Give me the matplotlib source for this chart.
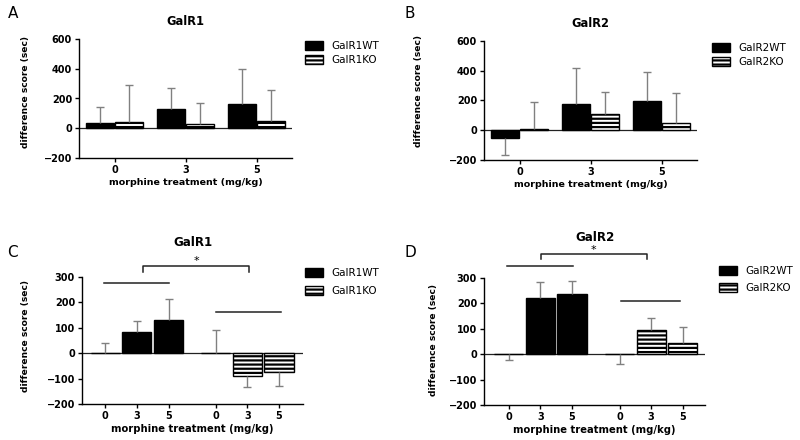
import numpy as np
import matplotlib.pyplot as plt

plt.rcParams['font.family'] = 'DejaVu Sans'
plt.rcParams['hatch.linewidth'] = 1.6

doses = ['0', '3', '5']

# top row (A, B): means and one-sided error (sign = direction of the bar)
galr1_wt = [36, 130, 164]
galr1_wt_err = [104, 143, 232]
galr1_ko = [40, 31, 52]
galr1_ko_err = [250, 140, 202]

galr2_wt = [-49, 178, 196]
galr2_wt_err = [-120, 242, 195]
galr2_ko = [7, 106, 52]
galr2_ko_err = [180, 152, 197]

# bottom row (C, D)
galr1_wt_c = [0, 83, 129]
galr1_wt_c_err = [39, 45, 84]
galr1_ko_c = [0, -91, -74]
galr1_ko_c_err = [92, -43, -55]

galr2_wt_d = [0, 222, 238]
galr2_wt_d_err = [-23, 62, 49]
galr2_ko_d = [0, 97, 45]
galr2_ko_d_err = [-38, 46, 61]

# significance marks: group lines (y, x0, x1) and bracket (x0, x1, top, foot, star)
sig_c_lines = [(276, -0.05, 2.03), (163, 3.52, 5.57)]
sig_c_bracket = (1.19, 4.55, 343, 320, 362)
sig_d_lines = [(349, -0.04, 2.04), (211, 3.55, 5.40)]
sig_d_bracket = (1.02, 4.36, 393, 373, 410)


def one_sided_err(ax, x, mean, err):
    # SD drawn only on the side the bar points to, cap at the tip
    mean = np.array(mean, dtype=float)
    tip = mean + np.array(err, dtype=float)
    ax.vlines(x, mean, tip, color='#808080', lw=1, zorder=3)
    ax.plot(x, tip, ls='none', marker='_', ms=6, mew=1, color='#808080', zorder=3)


def style(ax, ylim, yticks):
    ax.set_ylim(*ylim)
    ax.set_yticks(yticks)
    ax.spines['top'].set_visible(False)
    ax.spines['right'].set_visible(False)
    for s in ['left', 'bottom']:
        ax.spines[s].set_linewidth(1.0)
    ax.tick_params(direction='out', length=3, width=1, labelsize=7, pad=2)
    for lab in ax.get_xticklabels() + ax.get_yticklabels():
        lab.set_fontweight('bold')
    ax.axhline(0, color='#222222', lw=0.9, zorder=1)


def add_legend(ax, x, y, spacing):
    ax.legend(loc='upper left', bbox_to_anchor=(x / 800, 1 - y / 440),
              bbox_transform=fig.transFigure, frameon=False, fontsize=7.5,
              handlelength=1.75, handleheight=0.95, handletextpad=0.8,
              labelspacing=spacing, borderpad=0, borderaxespad=0)


fig = plt.figure(figsize=(8, 4.4), dpi=100)

wt_kw = dict(color='black', edgecolor='black', linewidth=1, zorder=2)
ko_kw = dict(color='white', edgecolor='black', linewidth=1, hatch='----', zorder=2)

# ---- top row ----
top = [
    ([79, 39, 292, 158], 'GalR1', galr1_wt, galr1_wt_err, galr1_ko, galr1_ko_err,
     'GalR1WT', 'GalR1KO', (305, 41), 0.35, (-0.23, 0.555), 'A', (13, 13)),
    ([484, 41, 697, 160], 'GalR2', galr2_wt, galr2_wt_err, galr2_ko, galr2_ko_err,
     'GalR2WT', 'GalR2KO', (712, 43), 0.35, (-0.286, 0.58), 'B', (410, 13)),
]
for box, title, wt, wt_e, ko, ko_e, lwt, lko, leg, sp, ylab, letter, lpos in top:
    l, t, r, b = box
    ax = fig.add_axes([l / 800, 1 - b / 440, (r - l) / 800, (b - t) / 440])
    x = np.arange(len(doses))
    ax.bar(x - 0.2, wt, 0.39, label=lwt, **wt_kw)
    ax.bar(x + 0.2, ko, 0.39, label=lko, **ko_kw)
    one_sided_err(ax, x - 0.2, wt, wt_e)
    one_sided_err(ax, x + 0.2, ko, ko_e)
    ax.set_xlim(-0.5, 2.5)
    ax.set_xticks(x)
    ax.set_xticklabels(doses)
    style(ax, (-200, 600), [-200, 0, 200, 400, 600])
    ax.text(0.5, 1.145, title, transform=ax.transAxes, ha='center', va='center',
            fontsize=8.3, fontweight='bold')
    ax.set_xlabel('morphine treatment (mg/kg)', fontsize=6.8, fontweight='bold')
    ax.xaxis.set_label_coords(0.5, -0.168)
    ax.set_ylabel('difference score (sec)', fontsize=6.6, fontweight='bold')
    ax.yaxis.set_label_coords(*ylab)
    add_legend(ax, leg[0], leg[1], sp)
    fig.text(lpos[0] / 800, 1 - lpos[1] / 440, letter, fontsize=11, ha='center', va='center')

# ---- bottom row ----
bottom = [
    ([82, 277, 303, 404], (-0.74, 6.26), 'GalR1', galr1_wt_c, galr1_wt_c_err,
     galr1_ko_c, galr1_ko_c_err, 'GalR1WT', 'GalR1KO', (305, 268), 0.75,
     (-0.235, 0.535), sig_c_lines, sig_c_bracket, 1.268, 'C', (12, 252)),
    ([484, 278, 705, 405], (-0.78, 6.2), 'GalR2', galr2_wt_d, galr2_wt_d_err,
     galr2_ko_d, galr2_ko_d_err, 'GalR2WT', 'GalR2KO', (719, 266), 0.7,
     (-0.208, 0.508), sig_d_lines, sig_d_bracket, 1.315, 'D', (410, 252)),
]
for (box, xlim, title, wt, wt_e, ko, ko_e, lwt, lko, leg, sp, ylab,
     lines, bracket, ty, letter, lpos) in bottom:
    l, t, r, b = box
    ax = fig.add_axes([l / 800, 1 - b / 440, (r - l) / 800, (b - t) / 440])
    xw = np.arange(len(doses))
    xk = xw + len(doses) + 0.5
    ax.bar(xw, wt, 0.92, label=lwt, **wt_kw)
    ax.bar(xk, ko, 0.92, label=lko, **ko_kw)
    one_sided_err(ax, xw, wt, wt_e)
    one_sided_err(ax, xk, ko, ko_e)
    ax.set_xlim(*xlim)
    ax.set_xticks(np.concatenate([xw, xk]))
    ax.set_xticklabels(doses + doses)
    style(ax, (-200, 300), [-200, -100, 0, 100, 200, 300])
    for yl, x0, x1 in lines:
        ax.plot([x0, x1], [yl, yl], color='#222222', lw=1.1, clip_on=False)
    bx0, bx1, btop, bfoot, star = bracket
    ax.plot([bx0, bx0, bx1, bx1], [bfoot, btop, btop, bfoot], color='#222222',
            lw=1.1, clip_on=False)
    ax.text((bx0 + bx1) / 2, star, '*', ha='center', va='center', fontsize=8)
    ax.text(0.5, ty, title, transform=ax.transAxes, ha='center', va='center',
            fontsize=8.6, fontweight='bold')
    ax.set_xlabel('morphine treatment (mg/kg)', fontsize=7.2, fontweight='bold')
    ax.xaxis.set_label_coords(0.5, -0.16)
    ax.set_ylabel('difference score (sec)', fontsize=6.6, fontweight='bold')
    ax.yaxis.set_label_coords(*ylab)
    add_legend(ax, leg[0], leg[1], sp)
    fig.text(lpos[0] / 800, 1 - lpos[1] / 440, letter, fontsize=11, ha='center', va='center')

fig.savefig('out.png', dpi=100)
